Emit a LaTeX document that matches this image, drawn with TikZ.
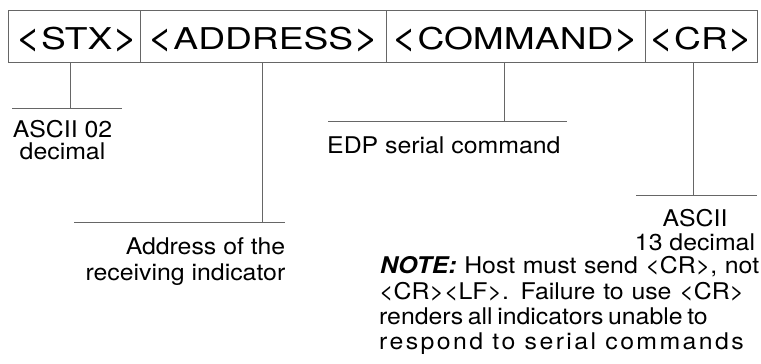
\documentclass[tikz,border=0pt]{standalone}
\usepackage{fontspec}
\setmainfont{TeX Gyre Heros}
\newfontfamily\hdrfont[FakeStretch=1.24]{TeX Gyre Heros}
\newfontfamily\lblfont[FakeStretch=1.08]{TeX Gyre Heros}
\newfontfamily\spacedfont[FakeStretch=1.08,LetterSpace=10.5]{TeX Gyre Heros}
\newcommand\mylt{\scalebox{1.2}{<}}
\newcommand\mygt{\scalebox{1.2}{>}}
\definecolor{linegray}{gray}{0.4}
\begin{document}
\begin{tikzpicture}[x=1pt,y=-1pt,
  cell/.style={draw=linegray, line width=1pt, minimum height=52pt, inner sep=0pt, outer sep=0pt,
    anchor=north west, font=\hdrfont\fontsize{30}{30}\selectfont, text height=30pt, text depth=4pt},
  conn/.style={draw=linegray, line width=1pt},
  lbl/.style={inner sep=0pt, font=\lblfont\fontsize{23}{25}\selectfont},
  spc/.style={inner sep=0pt, font=\spacedfont\fontsize{23}{25}\selectfont}]
\useasboundingbox (0,0) rectangle (761,364);
% header cells
\node[cell, minimum width=132.7pt] (stx) at (8,10) {\hspace*{5pt}\mylt STX\mygt};
\node[cell, minimum width=245.3pt] (addr) at (140.7,10) {\mylt ADDRESS\mygt};
\node[cell, minimum width=259pt] (cmd) at (386,10) {\mylt COMMAND\mygt};
\node[cell, minimum width=112pt] (cr) at (645,10) {\mylt CR\mygt};
% STX
\coordinate (stxJ) at (70,108);
\coordinate (stxL) at (12,108);
\coordinate (stxR) at (122,108);
\draw[conn] (stx.south -| stxJ) -- (stxJ);
\draw[conn] (stxL) -- (stxR);
\node[lbl, anchor=base] (stxA) at (62.5,137) {ASCII 02};
\node[lbl, anchor=base] (stxB) at (62.5,159) {decimal};
% ADDRESS
\coordinate (adJ) at (262,222);
\coordinate (adL) at (74,222);
\coordinate (adR) at (285,222);
\draw[conn] (addr.south -| adJ) -- (adJ);
\draw[conn] (adL) -- (adR);
\node[lbl, anchor=base east] (adA) at (285.5,254) {Address of the};
\node[lbl, anchor=base east] (adB) at (285.5,280) {receiving indicator};
% COMMAND
\coordinate (cmJ) at (504.5,121);
\coordinate (cmL) at (328,121);
\coordinate (cmR) at (567,121);
\draw[conn] (cmd.south -| cmJ) -- (cmJ);
\draw[conn] (cmL) -- (cmR);
\node[lbl, anchor=base west] (cmA) at (327,153) {EDP serial command};
% CR
\coordinate (crJ) at (693,195);
\coordinate (crL) at (636,195);
\coordinate (crR) at (757,195);
\draw[conn] (cr.south -| crJ) -- (crJ);
\draw[conn] (crL) -- (crR);
\node[lbl, anchor=base] (crA) at (695,226) {ASCII};
\node[lbl, anchor=base] (crB) at (695,250) {13 decimal};
% NOTE
\node[lbl, anchor=base west] (n1) at (380,273) {\makebox[379pt][s]{\textbf{\textit{NOTE:}} Host must send <CR>, not}};
\node[lbl, anchor=base west] (n2) at (379,299) {\makebox[365pt][s]{<CR><LF>. Failure to use <CR>}};
\node[lbl, anchor=base west] (n3) at (379,324) {\makebox[326pt][s]{renders all indicators unable to}};
\node[spc, anchor=base west] (n4) at (379,349) {respond to serial commands};
\end{tikzpicture}
\end{document}
